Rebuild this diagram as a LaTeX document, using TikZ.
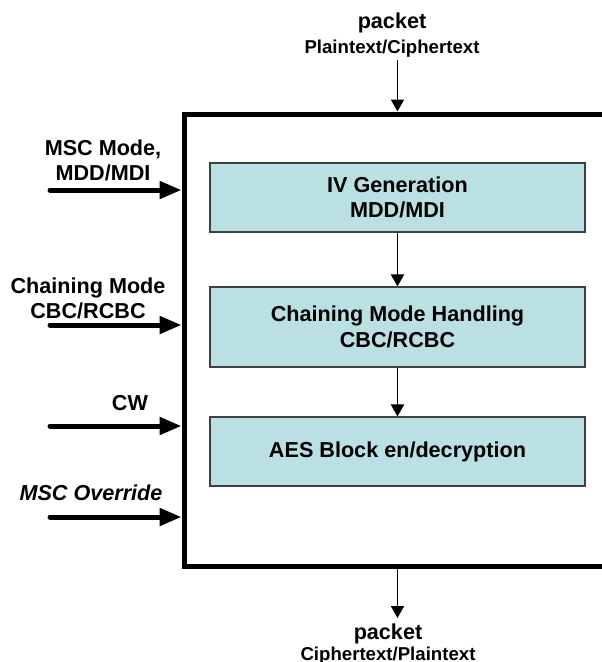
\documentclass[tikz,border=0pt]{standalone}
\usepackage{fontspec}
\setmainfont{Liberation Sans}
\usetikzlibrary{arrows.meta}
\definecolor{blockfill}{RGB}{186,224,227}

\begin{document}
\begin{tikzpicture}[
    font=\fontsize{12.3pt}{14.2pt}\selectfont\bfseries,
    block/.style={draw=black!75, line width=0.6pt, fill=blockfill, minimum width=7.5cm, align=center},
    bus/.style={line width=0.1cm, line cap=round, -{Triangle[length=0.44cm,width=0.34cm]}},
    flow/.style={line width=1.1pt, -{Triangle[length=0.24cm,width=0.26cm]}},
    small/.style={font=\fontsize{10.6pt}{12.5pt}\selectfont\bfseries}
  ]
				\useasboundingbox (0,0) rectangle (12.04,-13.24);
				\clip (0,0) rectangle (12.04,-13.24);
				% the unit itself, open towards the right
				\node[draw, line width=0.1cm, minimum width=8.82cm, minimum height=9.04cm] (unit) at (8.09,-6.8) {};
				\node[block, minimum height=1.38cm] (iv) at (7.95,-3.95) {IV Generation\\MDD/MDI};
				\node[block, minimum height=1.6cm] (chain) at (7.95,-6.54) {Chaining Mode Handling\\[1pt]CBC/RCBC};
				\node[block, minimum height=1.38cm] (aes) at (7.95,-9.03) {AES Block en/decryption};
				\draw[flow] (iv) -- (chain);
				\draw[flow] (chain) -- (aes);
				% packet in and out
				\node[align=center] (pktinlbl) at (7.84,-0.7) {packet\\{\fontsize{10.6pt}{12.5pt}\selectfont Plaintext/Ciphertext}};
				\node[align=center] (pktoutlbl) at (7.76,-12.88) {packet\\[-2pt]{\fontsize{10.6pt}{12.5pt}\selectfont Ciphertext/Plaintext}};
				\coordinate (pktsrc) at (7.95,-1.2);
				\coordinate (pktdst) at (7.95,-12.36);
				\draw[flow] (pktsrc) -- (pktsrc |- unit.north);
				\draw[flow] (pktdst |- unit.south) -- (pktdst);
				% control inputs on the left
				\node[align=center] (msclbl) at (2.06,-3.2) {MSC Mode,\\MDD/MDI};
				\node[align=center] (chainlbl) at (1.76,-5.96) {Chaining Mode\\CBC/RCBC};
				\node[anchor=base] (cwlbl) at (2.6,-8.2) {CW};
				\node[anchor=base] (ovrlbl) at (1.82,-10.0) {\itshape MSC Override};
				\coordinate (mscsrc) at (1.0,-3.8);
				\coordinate (chainsrc) at (1.0,-6.5);
				\coordinate (cwsrc) at (1.0,-8.52);
				\coordinate (ovrsrc) at (1.0,-10.34);
				\draw[bus] (mscsrc) -- (mscsrc -| unit.west);
				\draw[bus] (chainsrc) -- (chainsrc -| unit.west);
				\draw[bus] (cwsrc) -- (cwsrc -| unit.west);
				\draw[bus] (ovrsrc) -- (ovrsrc -| unit.west);
			\end{tikzpicture}
\end{document}
